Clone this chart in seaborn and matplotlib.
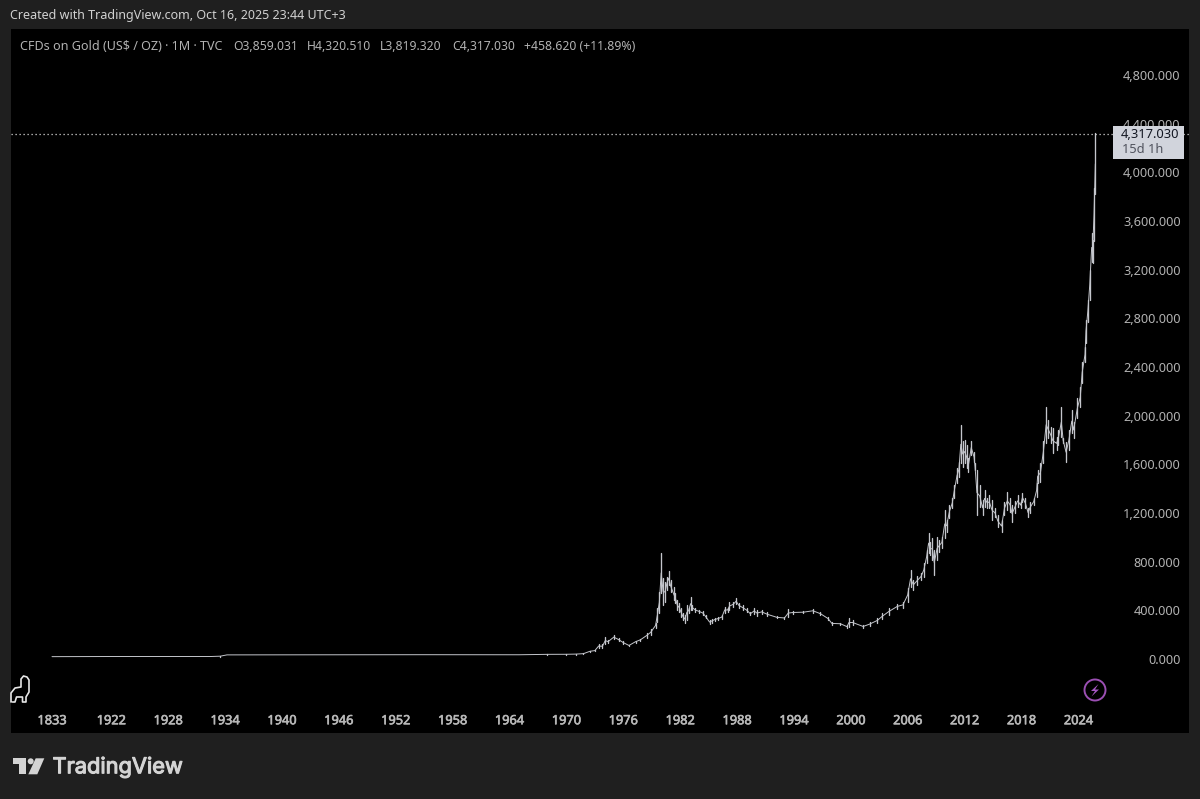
"""Gold monthly chart, TradingView dark look"""
import matplotlib
matplotlib.use("Agg")
import matplotlib.patheffects as pe
import matplotlib.pyplot as plt
import pandas as pd
import seaborn as sns
from matplotlib.patches import Circle, Polygon, Rectangle

# Data
dates = [1833, 1921.9, 1922, 1931, 1932.5, 1933.5, 1934.2, 1945, 1955, 1965, 1968, 1970, 1971, 1971.8,
         1972.5, 1973, 1973.4, 1973.8, 1974.1, 1974.4, 1975, 1975.5, 1976, 1976.6, 1977.3, 1977.8, 1978.5,
         1978.9, 1979.4, 1979.6, 1979.8, 1980, 1980.2, 1980.4, 1980.6, 1980.8, 1981, 1981.3, 1981.5, 1981.7,
         1981.9, 1982.1, 1982.3, 1982.5, 1982.7, 1982.9, 1983.1, 1983.3, 1983.6, 1984, 1984.4, 1984.7, 1985.1,
         1985.4, 1985.7, 1986, 1986.4, 1986.7, 1987, 1987.2, 1987.6, 1987.9, 1988.2, 1988.6, 1989, 1989.4,
         1989.8, 1990.1, 1990.6, 1991.2, 1992.2, 1993, 1993.4, 1993.9, 1995, 1996, 1996.8, 1997.6, 1998,
         1998.9, 1999.6, 1999.8, 2000.2, 2001.3, 2002, 2002.8, 2003.3, 2004, 2004.9, 2005.5, 2006, 2006.3,
         2006.6, 2007, 2007.4, 2007.7, 2008, 2008.2, 2008.4, 2008.6, 2008.8, 2009.1, 2009.3, 2009.6, 2009.9,
         2010.1, 2010.4, 2010.7, 2010.9, 2011.2, 2011.4, 2011.6, 2011.8, 2012, 2012.2, 2012.4, 2012.7, 2013,
         2013.1, 2013.3, 2013.6, 2013.9, 2014.1, 2014.4, 2014.6, 2014.9, 2015.2, 2015.5, 2015.9, 2016.2,
         2016.5, 2016.8, 2017, 2017.3, 2017.6, 2017.9, 2018.1, 2018.4, 2018.7, 2018.9, 2019.3, 2019.6, 2019.7,
         2020, 2020.3, 2020.6, 2020.8, 2021.1, 2021.3, 2021.7, 2021.9, 2022.2, 2022.4, 2022.7, 2023, 2023.3,
         2023.5, 2023.9, 2024.2, 2024.4, 2024.7, 2024.8, 2025, 2025.2, 2025.4, 2025.5, 2025.65, 2025.79]
highs = [20, 20.67, 20.67, 20.67, 20.67, 26, 35, 36, 37, 36, 42, 43, 44, 48,
         68, 74, 123, 120, 180, 156, 195, 170, 145, 118, 150, 165, 215,
         245, 296, 420, 550, 873, 665, 633, 675, 723, 650, 590, 540, 485,
         460, 420, 378, 360, 444, 420, 510, 444, 420, 405, 395, 360, 320,
         330, 340, 345, 360, 430, 420, 470, 470, 500, 460, 445, 420, 385,
         420, 405, 405, 385, 350, 345, 410, 395, 395, 415, 385, 345, 305,
         300, 280, 340, 320, 280, 305, 335, 375, 420, 455, 470, 585, 730,
         650, 680, 705, 790, 895, 1035, 960, 995, 895, 1005, 980, 1005, 1225,
         1145, 1265, 1325, 1430, 1570, 1620, 1920, 1795, 1800, 1760, 1650, 1795, 1700,
         1610, 1555, 1430, 1305, 1390, 1325, 1345, 1305, 1240, 1185, 1140, 1290,
         1375, 1325, 1265, 1295, 1350, 1290, 1365, 1325, 1240, 1290, 1325, 1445, 1555,
         1610, 1790, 2075, 1965, 1905, 1900, 1825, 1880, 2070, 1815, 1780, 1880, 2050,
         1950, 2145, 2235, 2440, 2565, 2790, 2950, 3200, 3500, 3445, 3870, 4320.51]
lows = [19, 20.67, 20.67, 20.67, 20.67, 20.67, 33, 34, 34, 34, 35, 35, 37, 40,
        60, 64, 90, 90, 123, 130, 165, 150, 125, 105, 135, 150, 175,
        195, 255, 305, 378, 542, 444, 468, 567, 608, 550, 485, 460, 400,
        385, 345, 320, 296, 320, 378, 400, 400, 385, 378, 360, 335, 288,
        300, 312, 320, 330, 378, 385, 400, 430, 450, 420, 400, 385, 360,
        370, 350, 370, 350, 335, 330, 345, 370, 375, 378, 360, 320, 280,
        280, 252, 260, 280, 255, 270, 300, 325, 360, 410, 420, 470, 590,
        570, 610, 650, 675, 790, 870, 855, 815, 690, 815, 880, 910, 995,
        1045, 1160, 1240, 1325, 1445, 1495, 1610, 1575, 1610, 1570, 1535, 1680, 1620,
        1555, 1180, 1250, 1180, 1250, 1240, 1240, 1140, 1165, 1085, 1045, 1185,
        1225, 1210, 1125, 1200, 1250, 1240, 1290, 1240, 1165, 1200, 1265, 1330, 1445,
        1455, 1610, 1775, 1815, 1775, 1690, 1720, 1760, 1825, 1775, 1620, 1720, 1860,
        1815, 1985, 2070, 2270, 2440, 2600, 2770, 2950, 3265, 3255, 3434, 3819.32]
tick_years = [1833, 1922, 1928, 1934, 1940, 1946, 1952, 1958, 1964, 1970, 1976, 1982, 1988, 1994, 2000,
              2006, 2012, 2018, 2024]
price_ticks = [0, 400, 800, 1200, 1600, 2000, 2400, 2800, 3200, 3600, 4000, 4400, 4800]
last_close = 4317.03

BG = "#1f1f1f"
TXT = "#b2b2b2"
FONT = ["Noto Sans", "DejaVu Sans"]


def bar_pos(year):
    # ordinal monthly axis: everything before 1922 is squeezed into 75 bars
    return 0 if year < 1900 else 75 + (year - 1922) * 12


sns.set_style("dark")
plt.rcParams["font.family"] = FONT

fig = plt.figure(figsize=(12, 7.99), dpi=100, facecolor=BG)
ax = fig.add_axes([11 / 1200, 1 - 733 / 799, 1178 / 1200, 704 / 799], facecolor="black")

df = pd.DataFrame({"date": dates, "high": highs, "low": lows})
df["pos"] = df["date"].map(bar_pos)
df_long = df.melt(id_vars="pos", value_vars=["high", "low"], value_name="price")

sns.lineplot(data=df_long, x="pos", y="price", estimator="mean", errorbar=None,
             color="#c4c6cc", lw=0.7, ax=ax)
sns.lineplot(data=df_long, x="pos", y="price", units="pos", estimator=None,
             color="#c4c6cc", lw=0.95, ax=ax)

ax.axhline(last_close, color="#d8d8d8", ls=(0, (1, 2.2)), lw=0.9)

ax.set_xlim(-51.9, 1439)
ax.set_ylim(-608, 5178)
ax.set_xlabel("")
ax.set_ylabel("")
ax.grid(False)
for s in ax.spines.values():
    s.set_visible(False)

ax.set_xticks([bar_pos(y) for y in tick_years])
ax.set_xticklabels([str(y) for y in tick_years])
ax.tick_params(axis="x", length=0, pad=-13.5, labelsize=9.2, labelcolor="#b8b8b8")
for lab in ax.get_xticklabels():
    # installed font has no usable heavier weight here, so thicken it a little
    lab.set_path_effects([pe.withStroke(linewidth=0.45, foreground="#b8b8b8")])

ax.yaxis.tick_right()
ax.set_yticks(price_ticks)
ax.set_yticklabels([f"{p:,.3f}" for p in price_ticks], ha="right")
ax.tick_params(axis="y", length=0, pad=-6, labelsize=9.2, labelcolor=TXT)

# overlay in pixel coordinates for the TradingView furniture
ov = fig.add_axes([0, 0, 1, 1], facecolor="none", zorder=5)
ov.set_xlim(0, 1200)
ov.set_ylim(799, 0)
ov.axis("off")

ov.text(10, 16, "Created with TradingView.com, Oct 16, 2025 23:44 UTC+3", color="#d0d0d0",
        fontsize=9, va="center")
ov.text(19.5, 46, "CFDs on Gold (US$ / OZ) · 1M · TVC", color=TXT, fontsize=9.05, va="center")
value_bits = [(233, "O3,859.031"), (307, "H4,320.510"), (380, "L3,819.320"), (452, "C4,317.030"),
              (524, "+458.620 (+11.89%)")]
for lx, s in value_bits:
    ov.text(lx, 46, s, color=TXT, fontsize=8.8, va="center")

# last price tag
ov.add_patch(Rectangle((1113, 126), 71, 33, color="#d1d4dc", lw=0))
ov.text(1121, 134.5, "4,317.030", color="#131722", fontsize=9.3, va="center")
ov.text(1122, 149.5, "15d 1h", color="#50535e", fontsize=9.2, va="center")

# dino icon
dino_x = [11, 11, 15, 21, 21, 23.5, 27, 29, 29, 26, 26, 22.5, 22.5, 16.5, 15, 12.5]
dino_y = [702, 693, 688, 687, 679, 676, 677, 680, 692, 697, 702, 702, 697, 697, 702, 702]
ov.plot(dino_x, dino_y, color="#e6e6e6", lw=1.2)

# lightning badge
ov.add_patch(Circle((1095, 690), 10.5, fill=False, ec="#9b4fb3", lw=1.4))
ov.add_patch(Polygon([(1098.5, 684), (1091, 691), (1095, 691), (1091.5, 696.5), (1099, 689.5), (1095, 689.5)],
                     color="#a557c2", lw=0))

# TradingView logo
logo = "#d4d4d4"
ov.add_patch(Polygon([(13.3, 758.3), (26, 758.3), (26, 774.3), (19.3, 774.3), (19.3, 764), (13.3, 764)],
                     color=logo, lw=0))
ov.add_patch(Circle((30.7, 761.3), 3, color=logo, lw=0))
ov.add_patch(Polygon([(35.7, 758.3), (44.3, 758.3), (37.3, 774.3), (28.3, 774.3)], color=logo, lw=0))
ov.text(52.5, 767, "TradingView", color=logo, fontsize=15.7, family=["Inter", "DejaVu Sans"], va="center",
        path_effects=[pe.withStroke(linewidth=0.8, foreground=logo)])

fig.savefig("out.png", dpi=100, facecolor=BG)
plt.close(fig)
